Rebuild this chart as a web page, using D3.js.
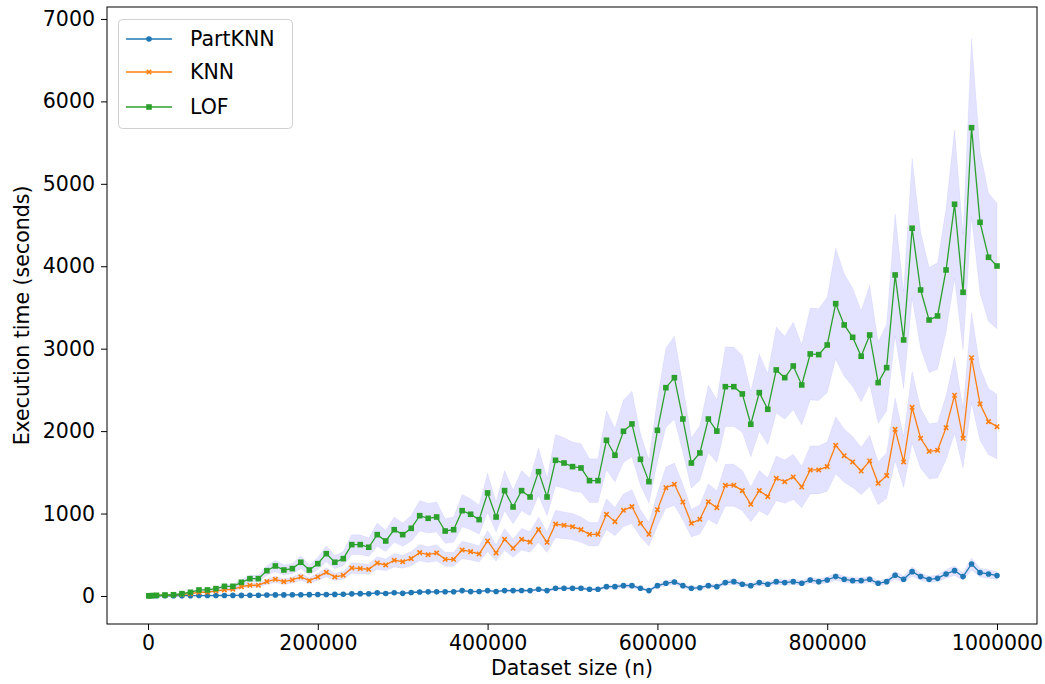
<!DOCTYPE html>
<html>
<head>
<meta charset="utf-8">
<script src="https://cdn.jsdelivr.net/npm/d3@7"></script>
<style>
  html, body { margin: 0; padding: 0; background: #fff; }
  svg { display: block; }
  text { font-family: "DejaVu Sans", sans-serif; }
</style>
</head>
<body>
<svg id="chart" width="1045" height="684"></svg>
<script>
// ---- data ----
const datasetSizes = [1000, 5000, 10000,
  20000, 30000, 40000, 50000, 60000, 70000, 80000, 90000, 100000,
  110000, 120000, 130000, 140000, 150000, 160000, 170000, 180000, 190000, 200000,
  210000, 220000, 230000, 240000, 250000, 260000, 270000, 280000, 290000, 300000,
  310000, 320000, 330000, 340000, 350000, 360000, 370000, 380000, 390000, 400000,
  410000, 420000, 430000, 440000, 450000, 460000, 470000, 480000, 490000, 500000,
  510000, 520000, 530000, 540000, 550000, 560000, 570000, 580000, 590000, 600000,
  610000, 620000, 630000, 640000, 650000, 660000, 670000, 680000, 690000, 700000,
  710000, 720000, 730000, 740000, 750000, 760000, 770000, 780000, 790000, 800000,
  810000, 820000, 830000, 840000, 850000, 860000, 870000, 880000, 890000, 900000,
  910000, 920000, 930000, 940000, 950000, 960000, 970000, 980000, 990000, 1000000];

const partKnnTimes = [1, 2, 3,
  3, 3, 4, 4, 5, 5, 6, 6, 7, 7, 8, 8,
  12, 13, 13, 14, 15, 16, 17, 18, 19, 20,
  26, 28, 27, 38, 30, 40, 32, 42,
  48, 50, 50, 52, 52,
  65, 53, 55, 65, 55, 65, 65, 67, 65, 81,
  65, 93, 93, 93, 93, 81, 81, 113, 113, 125,
  125, 93, 65, 125, 154, 170, 125, 93, 100, 125,
  113, 162, 174, 142, 125, 162, 142, 174, 162, 174,
  154, 194, 174, 194, 235, 202, 186, 186, 202, 154,
  174, 251, 202, 295, 235, 202, 214, 267, 307, 235,
  388, 283, 267, 247];

const knnTimes = [1, 3, 6,
  10, 14, 18, 28, 45, 45, 61, 73, 81,
  113, 130, 130, 174, 202, 174, 194, 231, 186, 231,
  287, 231, 251, 340, 332, 324, 400, 376, 433, 416,
  453, 526, 501, 522, 445, 445, 558, 538, 510, 667,
  522, 688, 579, 688, 655, 805, 651, 873, 857, 841,
  805, 748, 748, 991, 902, 1039, 1084, 882, 748, 1047,
  1314, 1355, 1140, 882, 930, 1144, 1071, 1343, 1343, 1278,
  1112, 1278, 1205, 1428, 1387, 1444, 1322, 1529, 1529, 1569,
  1828, 1702, 1626, 1516, 1638, 1367, 1460, 2022, 1626, 2289,
  1913, 1755, 1767, 2042, 2435, 1913, 2890, 2329, 2115, 2054];

const lofTimes = [2, 5, 8,
  12, 15, 28, 45, 73, 73, 89, 117, 117,
  166, 210, 210, 307, 364, 315, 332, 409, 315, 392,
  513, 409, 453, 623, 623, 591, 744, 667, 804, 744,
  821, 974, 942, 958, 788, 804, 1035, 991, 926, 1250,
  958, 1278, 1080, 1278, 1201, 1508, 1201, 1646, 1613, 1569,
  1553, 1399, 1399, 1889, 1707, 1998, 2087, 1658, 1387, 2010,
  2527, 2648, 2147, 1613, 1735, 2147, 2000, 2539, 2539, 2451,
  2083, 2467, 2265, 2742, 2648, 2790, 2560, 2936, 2928, 3045,
  3546, 3288, 3138, 2908, 3166, 2588, 2770, 3894, 3106, 4461,
  3712, 3348, 3397, 3955, 4752, 3684, 5681, 4533, 4109, 4003];

const seriesNames = ["PartKNN", "KNN", "LOF"];
const seriesColors = ["#1f77b4", "#ff7f0e", "#2ca02c"];
const seriesMarkers = ["circle", "cross", "square"];
const bandSpread = 0.19;   // relative half-width of the shaded spread band

const xTicks = [0, 200000, 400000, 600000, 800000, 1000000];
const yTicks = [0, 1000, 2000, 3000, 4000, 5000, 6000, 7000];

// ---- layout ----
const FONT = "20.5px";
const svg = d3.select("#chart");
const plot = { left: 107, right: 1037, top: 7, bottom: 624 };

const x = d3.scaleLinear().domain([-48300, 1047100]).range([plot.left, plot.right]);
const y = d3.scaleLinear().domain([-340, 7145]).range([plot.bottom, plot.top]);

const series = [partKnnTimes, knnTimes, lofTimes].map((vals, i) => ({
  name: seriesNames[i], color: seriesColors[i], marker: seriesMarkers[i],
  points: datasetSizes.map((n, j) => ({ n, v: vals[j] }))
}));

svg.append("defs").append("clipPath").attr("id", "clip")
  .append("rect").attr("x", plot.left).attr("y", plot.top)
  .attr("width", plot.right - plot.left).attr("height", plot.bottom - plot.top);

const g = svg.append("g").attr("clip-path", "url(#clip)");

// bands
const area = d3.area()
  .x(d => x(d.n))
  .y0(d => y(d.v * (1 - bandSpread)))
  .y1(d => y(d.v * (1 + bandSpread)));
series.forEach(s => {
  g.append("path").datum(s.points)
    .attr("d", area)
    .attr("fill", "blue")
    .attr("fill-opacity", 0.11)
    .attr("stroke", "blue")
    .attr("stroke-opacity", 0.05)
    .attr("stroke-width", 1);
});

// lines + markers
const line = d3.line().x(d => x(d.n)).y(d => y(d.v));
function drawMarker(sel, type, color, cx, cy) {
  if (type === "circle") {
    sel.append("circle").attr("cx", cx).attr("cy", cy).attr("r", 2.8).attr("fill", color);
  } else if (type === "square") {
    sel.append("rect").attr("x", cx - 2.8).attr("y", cy - 2.8).attr("width", 5.6).attr("height", 5.6).attr("fill", color);
  } else {
    const r = 2.2;
    sel.append("path")
      .attr("d", `M${cx - r},${cy - r}L${cx + r},${cy + r}M${cx - r},${cy + r}L${cx + r},${cy - r}`)
      .attr("stroke", color).attr("stroke-width", 1.6).attr("fill", "none");
  }
}
series.forEach(s => {
  g.append("path").datum(s.points)
    .attr("d", line)
    .attr("fill", "none")
    .attr("stroke", s.color)
    .attr("stroke-width", 1.3);
  const mg = g.append("g");
  s.points.forEach(p => drawMarker(mg, s.marker, s.color, x(p.n), y(p.v)));
});

// axes
const xAxis = d3.axisBottom(x).tickValues(xTicks).tickFormat(d3.format("d")).tickSize(6).tickPadding(5);
const yAxis = d3.axisLeft(y).tickValues(yTicks).tickFormat(d3.format("d")).tickSize(6).tickPadding(6);

const gx = svg.append("g").attr("transform", `translate(0,${plot.bottom})`).call(xAxis);
const gy = svg.append("g").attr("transform", `translate(${plot.left},0)`).call(yAxis);
[gx, gy].forEach(a => {
  a.select(".domain").remove();
  a.selectAll(".tick line").attr("stroke", "#000").attr("stroke-width", 1);
  a.selectAll(".tick text").attr("fill", "#000").style("font-size", FONT).style("font-family", "'DejaVu Sans', sans-serif");
});

// frame
svg.append("rect").attr("x", plot.left).attr("y", plot.top)
  .attr("width", plot.right - plot.left).attr("height", plot.bottom - plot.top)
  .attr("fill", "none").attr("stroke", "#000").attr("stroke-width", 1);

// axis labels
svg.append("text").attr("x", (plot.left + plot.right) / 2).attr("y", 675)
  .attr("text-anchor", "middle").style("font-size", FONT).attr("fill", "#000")
  .text("Dataset size (n)");
svg.append("text")
  .attr("transform", `translate(28.5,${(plot.top + plot.bottom) / 2}) rotate(-90)`)
  .attr("text-anchor", "middle").style("font-size", FONT).attr("fill", "#000")
  .text("Execution time (seconds)");

// legend
const lg = svg.append("g");
lg.append("rect").attr("x", 118.5).attr("y", 19.5).attr("width", 174).attr("height", 109)
  .attr("rx", 4).attr("fill", "#fff").attr("fill-opacity", 0.8)
  .attr("stroke", "#d0d0d0").attr("stroke-width", 1);
const rowY = [39, 72, 107];
series.forEach((s, i) => {
  lg.append("line").attr("x1", 126).attr("x2", 172).attr("y1", rowY[i]).attr("y2", rowY[i])
    .attr("stroke", s.color).attr("stroke-width", 1.3);
  drawMarker(lg, s.marker, s.color, 149, rowY[i]);
  lg.append("text").attr("x", 190).attr("y", rowY[i]).attr("dy", "0.35em")
    .style("font-size", FONT).attr("fill", "#000").text(s.name);
});
</script>
</body>
</html>
